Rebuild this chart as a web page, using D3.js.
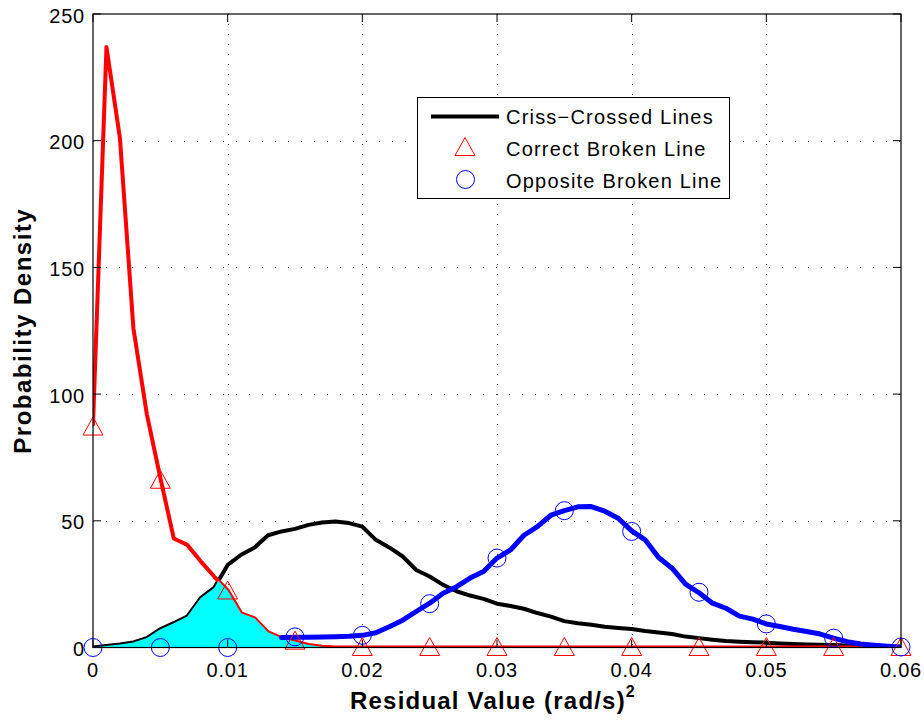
<!DOCTYPE html>
<html>
<head>
<meta charset="utf-8">
<script src="https://cdn.jsdelivr.net/npm/d3@7"></script>
<style>
  html, body { margin: 0; padding: 0; background: #ffffff; }
  svg { display: block; font-family: "Liberation Sans", Arial, Helvetica, sans-serif; }
</style>
</head>
<body>
<svg id="chart" width="924" height="721"></svg>
<script>
// Residual grid (rad/s)^2, sampled every 0.001 from 0 to 0.06
const residual = d3.range(61).map(i => +(i * 0.001).toFixed(3));

// Probability density curves on that grid
const crissCrossed = [
  0, 0.6, 1.2, 2.0, 3.7, 7.2, 9.6, 12.2, 19.5, 23.5,
  32.6, 36.6, 39.5, 44.3, 45.8, 46.8, 48.4, 49.3, 49.7, 49.1,
  47.7, 42.5, 39.5, 35.9, 30.6, 28.0, 24.7, 22.2, 20.5, 19.2,
  17.3, 16.4, 15.3, 13.6, 12.2, 10.4, 9.6, 9.0, 8.2, 7.7,
  7.3, 6.5, 5.9, 5.3, 4.3, 3.7, 3.1, 2.6, 2.3, 2.1,
  1.9, 1.6, 1.4, 1.2, 1.1, 1.0, 0.8, 0.6, 0.4, 0.2,
  0
];
const correctBroken = [
  88, 237, 201, 126, 92, 67, 43, 40.5, 34, 28,
  22.5, 13.5, 11.5, 6, 3.7, 2.4, 1, 0.3, 0, 0,
  0, 0, 0, 0, 0, 0, 0, 0, 0, 0,
  0, 0, 0, 0, 0, 0, 0, 0, 0, 0,
  0, 0, 0, 0, 0, 0, 0, 0, 0, 0,
  0, 0, 0, 0, 0, 0, 0, 0, 0, 0,
  0
];
const oppositeBroken = [
  null, null, null, null, null, null, null, null, null, null,
  null, null, null, null, 3.9, 4.0, 4.0, 4.1, 4.2, 4.4,
  4.8, 5.8, 8.2, 10.8, 14.2, 17.5, 21.4, 24.0, 27.4, 30.0,
  35.3, 38.5, 44.3, 47.7, 52.2, 54.0, 55.5, 55.6, 53.8, 51.0,
  46.0, 42.5, 35.5, 31.3, 25.0, 21.6, 17.5, 15.5, 12.4, 11.2,
  9.3, 8.3, 7.2, 6.3, 5.3, 3.7, 2.3, 1.4, 0.9, 0.5,
  0.2
];

// Marker samples every 0.005
const markerResidual = [0, 0.005, 0.01, 0.015, 0.02, 0.025, 0.03, 0.035, 0.04, 0.045, 0.05, 0.055, 0.06];
const triangleValues = [87, 66, 22.3, 2.5, 0, 0, 0, 0, 0, 0, 0, 0, 0];
const circleValues = [0, 0, 0, 4.2, 4.8, 17.3, 35.3, 54, 45.8, 21.8, 9.3, 3.7, 0.2];

// Axis ticks and labels
const xTicks = [0, 0.01, 0.02, 0.03, 0.04, 0.05, 0.06];
const xTickLabels = ["0", "0.01", "0.02", "0.03", "0.04", "0.05", "0.06"];
const yTicks = [0, 50, 100, 150, 200, 250];
const yTickLabels = ["0", "50", "100", "150", "200", "250"];

const legendLabels = ["Criss\u2212Crossed Lines", "Correct Broken Line", "Opposite Broken Line"];

const svg = d3.select("#chart");
const pLeft = 93, pRight = 901, pTop = 14, pBottom = 647.5;

const x = d3.scaleLinear().domain([0, 0.06]).range([pLeft, pRight]);
const y = d3.scaleLinear().domain([0, 250]).range([pBottom, pTop]);

svg.append("defs").append("clipPath").attr("id", "plotClip")
  .append("rect").attr("x", pLeft).attr("y", pTop)
  .attr("width", pRight - pLeft).attr("height", pBottom - pTop);

// Dotted grid
const grid = svg.append("g");
grid.selectAll(".vg").data(xTicks.slice(1, -1)).enter().append("line")
  .attr("x1", d => Math.round(x(d)) + 0.5).attr("x2", d => Math.round(x(d)) + 0.5)
  .attr("y1", pTop).attr("y2", pBottom)
  .attr("stroke", "#444").attr("stroke-width", 1).attr("stroke-dasharray", "1,9");
grid.selectAll(".hg").data(yTicks.slice(1, -1)).enter().append("line")
  .attr("y1", d => Math.round(y(d)) + 0.5).attr("y2", d => Math.round(y(d)) + 0.5)
  .attr("x1", pLeft).attr("x2", pRight)
  .attr("stroke", "#444").attr("stroke-width", 1).attr("stroke-dasharray", "1,12");

const plot = svg.append("g").attr("clip-path", "url(#plotClip)");

const lineGen = d3.line()
  .defined(d => d[1] != null)
  .x(d => x(d[0])).y(d => y(d[1]));

plot.append("path")
  .attr("d", lineGen(residual.map((r, i) => [r, crissCrossed[i]])))
  .attr("fill", "none").attr("stroke", "#000").attr("stroke-width", 4)
  .attr("stroke-linejoin", "round").attr("stroke-linecap", "round");

plot.append("path")
  .attr("d", lineGen(residual.map((r, i) => [r, correctBroken[i]])))
  .attr("fill", "none").attr("stroke", "#ff0000").attr("stroke-width", 4)
  .attr("stroke-linejoin", "round").attr("stroke-linecap", "round");

// Markers (not clipped)
const triPath = "M0,-10 L10,8 L-10,8 Z";
const markers = svg.append("g");
markers.selectAll(".tri").data(markerResidual).enter().append("path")
  .attr("transform", (d, i) => `translate(${x(d)},${y(triangleValues[i])})`)
  .attr("d", triPath)
  .attr("fill", "none").attr("stroke", "#ff0000").attr("stroke-width", 1);

markers.selectAll(".circ").data(markerResidual).enter().append("circle")
  .attr("cx", d => x(d))
  .attr("cy", (d, i) => y(circleValues[i]))
  .attr("r", 9)
  .attr("fill", "none").attr("stroke", "#0000ff").attr("stroke-width", 1);

// Overlap region under both the criss-crossed and correct-broken curves
const overlap = [];
for (let i = 0; i < residual.length; i++) {
  const a = crissCrossed[i], b = correctBroken[i];
  overlap.push([residual[i], Math.min(a, b)]);
  if (i < residual.length - 1) {
    const a2 = crissCrossed[i + 1], b2 = correctBroken[i + 1];
    const d1 = a - b, d2 = a2 - b2;
    if (d1 * d2 < 0) {
      const t = d1 / (d1 - d2);
      overlap.push([residual[i] + t * (residual[i + 1] - residual[i]), a + t * (a2 - a)]);
    }
  }
}
const areaGen = d3.area().x(d => x(d[0])).y0(y(0)).y1(d => y(d[1]));
plot.append("path").attr("d", areaGen(overlap)).attr("fill", "#00ffff").attr("stroke", "none");

plot.append("path")
  .attr("d", lineGen(residual.map((r, i) => [r, oppositeBroken[i]])))
  .attr("fill", "none").attr("stroke", "#0000ff").attr("stroke-width", 5)
  .attr("stroke-linejoin", "round").attr("stroke-linecap", "round");

// Axes box with inward ticks on all sides
const axes = svg.append("g");
axes.append("rect").attr("x", pLeft).attr("y", pTop)
  .attr("width", pRight - pLeft).attr("height", pBottom - pTop)
  .attr("fill", "none").attr("stroke", "#000").attr("stroke-width", 1.2);

const tickLen = 8;
xTicks.forEach(t => {
  const px = x(t);
  axes.append("line").attr("x1", px).attr("x2", px).attr("y1", pBottom).attr("y2", pBottom - tickLen)
    .attr("stroke", "#000").attr("stroke-width", 1);
  axes.append("line").attr("x1", px).attr("x2", px).attr("y1", pTop).attr("y2", pTop + tickLen)
    .attr("stroke", "#000").attr("stroke-width", 1);
});
yTicks.forEach(t => {
  const py = y(t);
  axes.append("line").attr("x1", pLeft).attr("x2", pLeft + tickLen).attr("y1", py).attr("y2", py)
    .attr("stroke", "#000").attr("stroke-width", 1);
  axes.append("line").attr("x1", pRight).attr("x2", pRight - tickLen).attr("y1", py).attr("y2", py)
    .attr("stroke", "#000").attr("stroke-width", 1);
});

// Tick labels
axes.selectAll(".xl").data(xTicks).enter().append("text")
  .attr("x", d => x(d)).attr("y", pBottom + 29.5)
  .attr("text-anchor", "middle").attr("font-size", 20).attr("letter-spacing", 0.8)
  .text((d, i) => xTickLabels[i]);
axes.selectAll(".yl").data(yTicks).enter().append("text")
  .attr("x", pLeft - 8).attr("y", d => y(d) + 8.5)
  .attr("text-anchor", "end").attr("font-size", 20).attr("letter-spacing", 0.8)
  .text((d, i) => yTickLabels[i]);

// Axis titles
const xTitle = svg.append("text")
  .attr("x", (pLeft + pRight) / 2 - 4).attr("y", 709)
  .attr("text-anchor", "middle").attr("font-size", 24).attr("font-weight", "bold")
  .attr("letter-spacing", 1.2);
xTitle.append("tspan").text("Residual Value (rad/s)");
xTitle.append("tspan").attr("dy", -12).attr("font-size", 16).text("2");

svg.append("text")
  .attr("transform", `translate(31,${(pTop + pBottom) / 2}) rotate(-90)`)
  .attr("text-anchor", "middle").attr("font-size", 24).attr("font-weight", "bold")
  .attr("letter-spacing", 1.5)
  .text("Probability Density");

// Legend
const lg = svg.append("g");
lg.append("rect").attr("x", 417.5).attr("y", 97.5).attr("width", 312).attr("height", 101)
  .attr("fill", "#fff").attr("stroke", "#000").attr("stroke-width", 1);
const rowY = [116.5, 148.5, 180.5];
lg.append("line").attr("x1", 431).attr("x2", 499).attr("y1", rowY[0]).attr("y2", rowY[0])
  .attr("stroke", "#000").attr("stroke-width", 4);
lg.append("path").attr("transform", `translate(465,${rowY[1] - 1})`)
  .attr("d", triPath)
  .attr("fill", "none").attr("stroke", "#ff0000").attr("stroke-width", 1);
lg.append("circle").attr("cx", 465.5).attr("cy", rowY[2] - 1).attr("r", 9)
  .attr("fill", "none").attr("stroke", "#0000ff").attr("stroke-width", 1);
lg.selectAll(".lt").data(legendLabels).enter().append("text")
  .attr("x", 506).attr("y", (d, i) => rowY[i] + 7.5)
  .attr("font-size", 20).attr("letter-spacing", 1.2)
  .text(d => d);
</script>
</body>
</html>
